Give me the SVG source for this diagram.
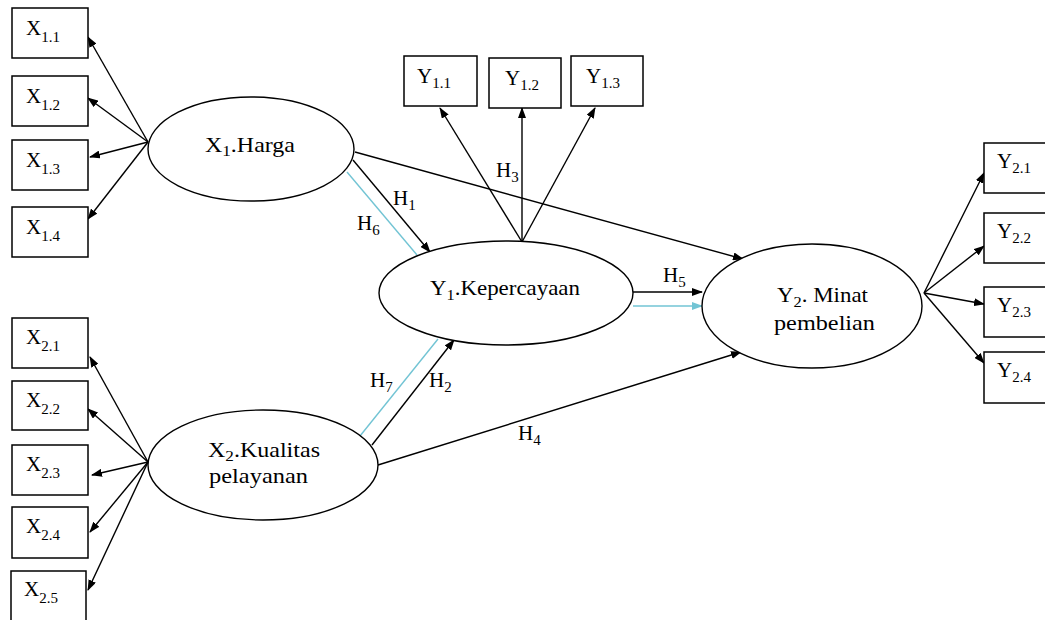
<svg xmlns="http://www.w3.org/2000/svg" width="1045" height="620" viewBox="0 0 1045 620" font-family="'Liberation Serif', 'Times New Roman', 'DejaVu Serif', serif">
<style>
.box{fill:#fff;stroke:#000;stroke-width:1.5}
.ell{fill:#fff;stroke:#000;stroke-width:1.4}
.t{font-family:'Liberation Serif','Times New Roman','DejaVu Serif',serif;font-size:21px;fill:#000}
.s{font-size:15px}
.ln{stroke:#000;stroke-width:1.4;fill:none;marker-end:url(#ah)}
.cy{stroke:#72c4d4;stroke-width:1.4;fill:none}
</style>
<defs>
<marker id="ah" markerWidth="11" markerHeight="8" refX="10" refY="4" orient="auto" markerUnits="userSpaceOnUse">
<path d="M0,0 L11,4 L0,8 Z" fill="#000"/>
</marker>
<marker id="ahc" markerWidth="11" markerHeight="8" refX="10" refY="4" orient="auto" markerUnits="userSpaceOnUse">
<path d="M0,0 L11,4 L0,8 Z" fill="#72c4d4"/>
</marker>
</defs>
<rect width="1045" height="620" fill="#fff"/>

<g id="connectors">
<line class="ln" x1="148" y1="142" x2="88" y2="37"/>
<line class="ln" x1="148" y1="142" x2="88" y2="98"/>
<line class="ln" x1="148" y1="142" x2="90" y2="157"/>
<line class="ln" x1="148" y1="142" x2="88" y2="219"/>
<line class="ln" x1="148" y1="462" x2="90" y2="357"/>
<line class="ln" x1="148" y1="462" x2="88" y2="409"/>
<line class="ln" x1="148" y1="462" x2="92" y2="475"/>
<line class="ln" x1="148" y1="462" x2="90" y2="532"/>
<line class="ln" x1="148" y1="462" x2="88" y2="590"/>
<line class="ln" x1="522" y1="242" x2="440" y2="108"/>
<line class="ln" x1="522" y1="242" x2="522" y2="108"/>
<line class="ln" x1="522" y1="242" x2="595" y2="108"/>
<line class="ln" x1="924" y1="293" x2="984" y2="173"/>
<line class="ln" x1="924" y1="293" x2="984" y2="246"/>
<line class="ln" x1="924" y1="293" x2="984" y2="304"/>
<line class="ln" x1="924" y1="293" x2="984" y2="363"/>
<line class="ln" x1="353" y1="160" x2="430" y2="252"/>
<line class="cy" x1="347" y1="172" x2="417" y2="255"/>
<line class="ln" x1="355" y1="152" x2="743" y2="259"/>
<line class="ln" x1="372" y1="445" x2="454" y2="340"/>
<line class="cy" x1="360" y1="436" x2="438" y2="339"/>
<line class="ln" x1="378" y1="465" x2="741" y2="352"/>
<line class="ln" x1="633" y1="292" x2="702" y2="292"/>
<line class="cy" x1="633" y1="306" x2="702" y2="306" marker-end="url(#ahc)"/>
<text class="t" x="393" y="205">H<tspan class="s" dy="5">1</tspan></text>
<text class="t" x="357" y="230">H<tspan class="s" dy="5">6</tspan></text>
<text class="t" x="496" y="177">H<tspan class="s" dy="5">3</tspan></text>
<text class="t" x="663" y="282">H<tspan class="s" dy="5">5</tspan></text>
<text class="t" x="370" y="387">H<tspan class="s" dy="5">7</tspan></text>
<text class="t" x="429" y="387">H<tspan class="s" dy="5">2</tspan></text>
<text class="t" x="518" y="440">H<tspan class="s" dy="5">4</tspan></text>
</g>

<g id="x11"><rect class="box" x="12" y="8" width="76" height="50"/><text class="t" x="26" y="35">X<tspan class="s" dy="7">1.1</tspan></text></g>
<g id="x12"><rect class="box" x="12" y="76" width="76" height="50"/><text class="t" x="26" y="103">X<tspan class="s" dy="7">1.2</tspan></text></g>
<g id="x13"><rect class="box" x="12" y="140" width="76" height="50"/><text class="t" x="26" y="167">X<tspan class="s" dy="7">1.3</tspan></text></g>
<g id="x14"><rect class="box" x="12" y="207" width="76" height="50"/><text class="t" x="26" y="234">X<tspan class="s" dy="7">1.4</tspan></text></g>

<g id="x21"><rect class="box" x="12" y="318" width="76" height="50"/><text class="t" x="26" y="344">X<tspan class="s" dy="7">2.1</tspan></text></g>
<g id="x22"><rect class="box" x="12" y="381" width="76" height="49"/><text class="t" x="26" y="407">X<tspan class="s" dy="7">2.2</tspan></text></g>
<g id="x23"><rect class="box" x="12" y="445" width="76" height="50"/><text class="t" x="26" y="471">X<tspan class="s" dy="7">2.3</tspan></text></g>
<g id="x24"><rect class="box" x="12" y="507" width="76" height="51"/><text class="t" x="26" y="533">X<tspan class="s" dy="7">2.4</tspan></text></g>
<g id="x25"><rect class="box" x="11" y="571" width="75" height="60"/><text class="t" x="24" y="596">X<tspan class="s" dy="7">2.5</tspan></text></g>

<g id="y11"><rect class="box" x="404" y="56" width="73" height="50"/><text class="t" x="417" y="83">Y<tspan class="s" dy="5">1.1</tspan></text></g>
<g id="y12"><rect class="box" x="489" y="58" width="72" height="50"/><text class="t" x="505" y="85">Y<tspan class="s" dy="5">1.2</tspan></text></g>
<g id="y13"><rect class="box" x="571" y="56" width="72" height="50"/><text class="t" x="586" y="83">Y<tspan class="s" dy="5">1.3</tspan></text></g>

<g id="y21"><rect class="box" x="984" y="143" width="70" height="50"/><text class="t" x="997" y="168">Y<tspan class="s" dy="5">2.1</tspan></text></g>
<g id="y22"><rect class="box" x="984" y="213" width="70" height="50"/><text class="t" x="997" y="238">Y<tspan class="s" dy="5">2.2</tspan></text></g>
<g id="y23"><rect class="box" x="984" y="287" width="70" height="50"/><text class="t" x="997" y="312">Y<tspan class="s" dy="5">2.3</tspan></text></g>
<g id="y24"><rect class="box" x="984" y="352" width="70" height="51"/><text class="t" x="997" y="377">Y<tspan class="s" dy="5">2.4</tspan></text></g>

<g id="x1"><ellipse class="ell" cx="251" cy="149" rx="103" ry="52"/><text class="t" x="205" y="152" textLength="90" lengthAdjust="spacingAndGlyphs">X<tspan class="s" dy="4">1</tspan><tspan dy="-4">.Harga</tspan></text></g>
<g id="x2"><ellipse class="ell" cx="263" cy="465" rx="115" ry="55"/><text class="t" x="208" y="457" textLength="112" lengthAdjust="spacingAndGlyphs">X<tspan class="s" dy="4">2</tspan><tspan dy="-4">.Kualitas</tspan></text><text class="t" x="209" y="483" textLength="99" lengthAdjust="spacingAndGlyphs">pelayanan</text></g>
<g id="y1"><ellipse class="ell" cx="506" cy="293" rx="127" ry="52"/><text class="t" x="430" y="295" textLength="150" lengthAdjust="spacingAndGlyphs">Y<tspan class="s" dy="5">1</tspan><tspan dy="-5">.Kepercayaan</tspan></text></g>
<g id="y2"><ellipse class="ell" cx="812" cy="306" rx="110" ry="62"/><text class="t" x="777" y="302" textLength="91" lengthAdjust="spacingAndGlyphs">Y<tspan class="s" dy="5">2</tspan><tspan dy="-5">. Minat</tspan></text><text class="t" x="774" y="330" textLength="101" lengthAdjust="spacingAndGlyphs">pembelian</text></g>
</svg>
